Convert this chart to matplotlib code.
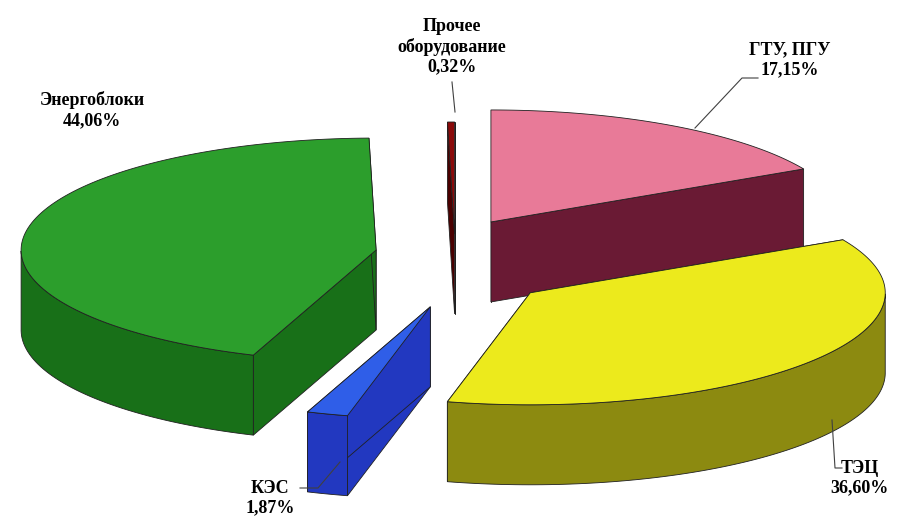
import matplotlib
matplotlib.use('Agg')
import numpy as np
from matplotlib import pyplot as plt
from matplotlib.patches import Polygon

labels = ['ГТУ, ПГУ', 'ТЭЦ', 'КЭС', 'Энергоблоки', 'Прочее\nоборудование']
values = [17.15, 36.60, 1.87, 44.06, 0.32]
pct_text = ['17,15%', '36,60%', '1,87%', '44,06%', '0,32%']
top_colors = ['#e87a98', '#ecea1c', '#2f5ee8', '#2c9e2c', '#8a0a0a']
side_colors = ['#6a1a34', '#8c8a10', '#2238c0', '#187018', '#4a0000']
explode = [70, 95, 85, 80, 40]

rx, ry, depth = 355, 112, 80
cx, cy = 455, 258

fig = plt.figure(figsize=(9.04, 5.27), dpi=100)
ax = fig.add_axes([0, 0, 1, 1])
ax.set_xlim(0, 904)
ax.set_ylim(527, 0)
ax.axis('off')

def pt(t, ox, oy, dy=0):
    return (ox + rx * np.cos(t), oy - ry * np.sin(t) + dy)

angles = 90 - np.concatenate([[0], np.cumsum(values)]) * 3.6
slices = []
for i, v in enumerate(values):
    a1, a2 = np.radians(angles[i]), np.radians(angles[i + 1])
    mid = (a1 + a2) / 2
    ox = cx + explode[i] * np.cos(mid)
    oy = cy - explode[i] * 0.6 * np.sin(mid)
    slices.append((oy, i, a1, a2, ox))

for oy, i, a1, a2, ox in sorted(slices):
    ts = np.linspace(a1, a2, 120)
    ec = '#202020'
    # radial walls
    for t in (a1, a2):
        p = pt(t, ox, oy)
        wall = [(ox, oy), p, (p[0], p[1] + depth), (ox, oy + depth)]
        ax.add_patch(Polygon(wall, closed=True, fc=side_colors[i], ec=ec, lw=0.6))
    # outer wall on the front half
    front = ts[np.sin(ts) < 0]
    if len(front) > 1:
        upper = [pt(t, ox, oy) for t in front]
        lower = [pt(t, ox, oy, depth) for t in front[::-1]]
        ax.add_patch(Polygon(upper + lower, closed=True, fc=side_colors[i], ec=ec, lw=0.6))
    top = [(ox, oy)] + [pt(t, ox, oy) for t in ts]
    ax.add_patch(Polygon(top, closed=True, fc=top_colors[i], ec=ec, lw=0.6))

font = dict(family='Liberation Serif', fontsize=13, fontweight='bold', ha='center')
ax.text(790, 60, labels[0] + '\n' + pct_text[0], va='center', **font)
ax.plot([695, 742, 758], [128, 78, 78], color='#404040', lw=0.8)
ax.text(860, 478, labels[1] + '\n' + pct_text[1], va='center', **font)
ax.plot([832, 835, 842], [420, 468, 468], color='#404040', lw=0.8)
ax.text(270, 498, labels[2] + '\n' + pct_text[2], va='center', **font)
ax.plot([340, 318, 300], [462, 488, 488], color='#404040', lw=0.8)
ax.text(92, 110, labels[3] + '\n' + pct_text[3], va='center', **font)
ax.text(452, 47, labels[4] + '\n' + pct_text[4], va='center', **font)
ax.plot([452, 455], [82, 112], color='#404040', lw=0.8)

plt.savefig('out.png')
